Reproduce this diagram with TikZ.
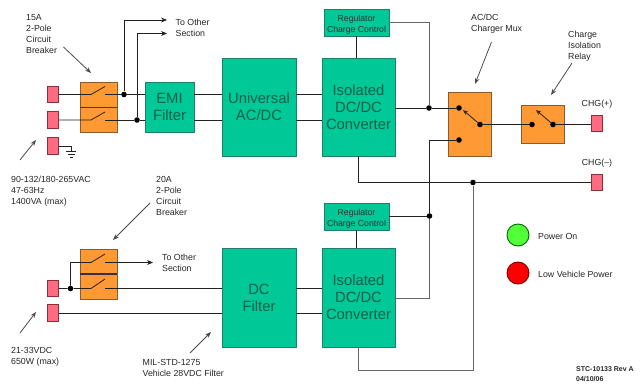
\documentclass[tikz,border=0pt]{standalone}
\usepackage{fontspec}
\setmainfont{Liberation Sans}
\usetikzlibrary{arrows.meta}
\definecolor{teal1}{HTML}{00C896}
\definecolor{tealb}{HTML}{1F7F68}
\definecolor{tealt}{HTML}{0F5F4C}
\definecolor{orange1}{HTML}{FF9933}
\definecolor{orangeb}{HTML}{8A5A30}
\definecolor{pink1}{HTML}{FF6B80}
\definecolor{pinkb}{HTML}{8A3038}
\definecolor{wire}{HTML}{222222}
\definecolor{wireg}{HTML}{666666}
\tikzset{
  block/.style={draw=tealb,fill=teal1,line width=0.9pt,inner sep=0pt,align=center,text=tealt,font=\fontsize{14.8}{17}\selectfont},
  regbox/.style={draw=tealb,fill=teal1,line width=0.9pt,inner sep=0pt,align=center,text=black!80,minimum width=65pt,minimum height=27pt,font=\fontsize{8.7}{11}\selectfont},
  brk/.style={draw=orangeb,fill=orange1,line width=0.8pt,inner sep=0pt},
  pinbox/.style={draw=pinkb,fill=pink1,line width=0.8pt,inner sep=0pt,minimum width=11pt,minimum height=16.5pt},
  lbl/.style={inner sep=0pt,align=left,anchor=north west,text=black!85,font=\fontsize{8.8}{11}\selectfont},
  wr/.style={draw=wire,line width=0.8pt},
  wg/.style={draw=wireg,line width=0.9pt},
  jdot/.style={circle,fill=black,inner sep=0pt,minimum size=5.6pt},
  swarrow/.style={wr,-{Stealth[length=5pt,width=4pt]}},
  callout/.style={draw=black!70,line width=0.8pt,-{Stealth[length=6pt,width=4.5pt]}},
  outarrow/.style={wr,-{Stealth[length=6pt,width=5pt]}}
}
\begin{document}
\begin{tikzpicture}[x=1pt,y=-1pt]
\useasboundingbox (0,0) rectangle (640,385);
\fill[white] (0,0) rectangle (640,385);
% pins
\node[pinbox] (p1) at (53,94.5) {};
\node[pinbox] (p2) at (53,120) {};
\node[pinbox] (p3) at (53,146) {};
\node[pinbox] (p4) at (53,288.5) {};
\node[pinbox] (p5) at (53,313) {};
\node[pinbox] (pp) at (597,123.5) {};
\node[pinbox] (pm) at (597,182.5) {};
% coordinates
\coordinate (u1) at (167,20);
\coordinate (u2) at (167,33.5);
\coordinate (lo) at (153,262.5);
\coordinate (gnd) at (71,151);
\coordinate (loopa) at (473,370.5);
\coordinate (n1s) at (63.5,47); \coordinate (n1e) at (91,73);
\coordinate (n2s) at (20,160);  \coordinate (n2e) at (36,140);
\coordinate (n3s) at (150,203); \coordinate (n3e) at (113,240);
\coordinate (n4s) at (20,333);  \coordinate (n4e) at (36,312);
\coordinate (n5s) at (190,353); \coordinate (n5e) at (211,332);
\coordinate (n6s) at (491.5,42); \coordinate (n6e) at (475,84);
\coordinate (n7s) at (572,63);  \coordinate (n7e) at (551,95);
% wires under blocks
\draw[wr] (p3.east) -| (gnd);
\draw[wr] (66,151) -- (76,151) (67.5,154) -- (74.5,154) (69.5,157) -- (72.5,157);
% blocks
\node[brk,minimum width=37pt,minimum height=50pt] (b1) at (98.5,107) {};
\node[brk,minimum width=37pt,minimum height=50pt] (b2) at (98.5,274) {};
\draw[line width=0.9pt,draw=orangeb!60!black] (b1.west) -- (b1.east);
\draw[line width=1.1pt,draw=black!80] (b2.west) -- (b2.east);
\node[block,minimum width=49pt,minimum height=50pt] (emi) at (169.5,107) {EMI\\Filter};
\node[block,minimum width=74pt,minimum height=98pt] (uni) at (259,107) {Universal\\AC/DC};
\node[block,minimum width=73pt,minimum height=98pt] (iso1) at (358.5,107) {Isolated\\DC/DC\\Converter};
\node[regbox] (reg1) at (356.5,22.5) {\rule{0pt}{11pt}Regulator\\Charge Control};
\node[block,minimum width=74pt,minimum height=99pt] (dcf) at (259,297.5) {DC\\Filter};
\node[block,minimum width=73pt,minimum height=99pt] (iso2) at (358.5,297.5) {Isolated\\DC/DC\\Converter};
\node[regbox] (reg2) at (356.5,216.5) {\rule{0pt}{11pt}Regulator\\Charge Control};
\node[brk,minimum width=43pt,minimum height=64pt] (mux) at (469.5,124) {};
\node[brk,minimum width=43pt,minimum height=37.5pt] (rel) at (543,124.3) {};
% junctions
\node[jdot] (j1) at (124,94.5) {};
\node[jdot] (j2) at (137,120) {};
\node[jdot] (j3) at (70.5,288.5) {};
\node[jdot] (j4) at (429,108) {};
\node[jdot] (j5) at (429.5,216) {};
\node[jdot] (j6) at (473,182.5) {};
\node[jdot] (m1) at (459,108) {};
\node[jdot] (m2) at (459,140) {};
\node[jdot] (m3) at (480,124.5) {};
\node[jdot] (r1) at (532,124.5) {};
\node[jdot] (r2) at (553,124.5) {};
% breaker top
\coordinate (s1a) at (91,94.5); \coordinate (s1b) at (105,86.5); \coordinate (s1c) at (105,94.5);
\coordinate (s2a) at (91,120);  \coordinate (s2b) at (105,112);  \coordinate (s2c) at (105,120);
\draw[wr] (p1.east) -- (s1a) -- (s1b);
\draw[wr] (p2.east) -- (s2a) -- (s2b);
\draw[wr] (s1c) -- (j1) -- (emi.west |- j1);
\draw[wr] (s2c) -- (j2) -- (emi.west |- j2);
\draw[outarrow] (j1) |- (u1);
\draw[outarrow] (j2) |- (u2);
\draw[wr] (emi.east |- j1) -- (uni.west |- j1);
\draw[wr] (emi.east |- j2) -- (uni.west |- j2);
\draw[wr] (uni.east |- j1) -- (iso1.west |- j1);
\draw[wr] (uni.east |- j2) -- (iso1.west |- j2);
% breaker bottom
\coordinate (s3a) at (91,262.5); \coordinate (s3b) at (105,254); \coordinate (s3c) at (105,262.5);
\coordinate (s4a) at (91,288.5); \coordinate (s4b) at (105,279); \coordinate (s4c) at (105,288.5);
\draw[wr] (p4.east) -- (j3) -- (s4a) -- (s4b);
\draw[wr] (j3) |- (s3a) -- (s3b);
\draw[outarrow] (s3c) -- (lo);
\draw[wr] (s4c) -- (dcf.west |- s4c);
\draw[wr] (p5.east) -- (dcf.west |- p5);
\draw[wr] (dcf.east |- s4c) -- (iso2.west |- s4c);
\draw[wr] (dcf.east |- p5) -- (iso2.west |- p5);
% regulators
\draw[wr] (reg1.south) -- (reg1.south |- iso1.north);
\draw[wr] (reg2.south) -- (reg2.south |- iso2.north);
\draw[wg] (reg1.east) -| (j4);
\draw[wr] (reg2.east |- j5) -- (j5);
% outputs
\draw[wr] (iso1.east |- j4) -- (j4) -- (m1);
\draw[wg] (iso2.east |- 0,298.7) -- (429.5,298.7) -- (j5);
\draw[wr] (j5) -- (429.5,140) -- (m2);
\draw[swarrow] (m3) -- (463,110);
\draw[swarrow] (r2) -- (536,110);
\draw[wr] (m3) -- (r1);
\draw[wr] (r2) -- (pp.west |- r2);
% return
\draw[wr] (iso1.south) |- (j6);
\draw[wr] (j6) -- (pm.west |- j6);
\draw[wg] (j6) -- (loopa) -- (iso2.south |- loopa) -- (iso2.south);
% callouts
\draw[callout] (n1s) -- (n1e);
\draw[callout] (n2s) -- (n2e);
\draw[callout] (n3s) -- (n3e);
\draw[callout] (n4s) -- (n4e);
\draw[callout] (n5s) -- (n5e);
\draw[callout] (n6s) -- (n6e);
\draw[callout] (n7s) -- (n7e);
% labels
\node[lbl] (t1) at (26,14.5) {15A\\2-Pole\\Circuit\\Breaker};
\node[lbl] (t2) at (175.5,18.5) {To Other\\Section};
\node[lbl] (t3) at (11,176) {90-132/180-265VAC\\47-63Hz\\1400VA (max)};
\node[lbl] (t4) at (156,176) {20A\\2-Pole\\Circuit\\Breaker};
\node[lbl] (t5) at (162,254) {To Other\\Section};
\node[lbl] (t6) at (11,347) {21-33VDC\\650W (max)};
\node[lbl] (t7) at (142.5,359) {MIL-STD-1275\\Vehicle 28VDC Filter};
\node[lbl] (t8) at (471,14) {AC/DC\\Charger Mux};
\node[lbl] (t9) at (568,31) {Charge\\Isolation\\Relay};
\node[lbl,anchor=south] (t10) at (597,109) {CHG(+)};
\node[lbl,anchor=south] (t11) at (597,168) {CHG(--)};
\node[circle,draw=black!60!green,fill=green!75!white!90!yellow,line width=0.9pt,minimum size=22pt,inner sep=0pt] (c1) at (518,235) {};
\node[circle,draw=red!50!black,fill=red,line width=0.9pt,minimum size=22pt,inner sep=0pt] (c2) at (518,273) {};
\node[lbl,anchor=west] (t12) at (538,236.5) {Power On};
\node[lbl,anchor=west] (t13) at (538,274) {Low Vehicle Power};
\node[lbl,font=\fontsize{7}{10}\selectfont\bfseries] (t14) at (576,366) {STC-10133 Rev A\\04/10/06};
\end{tikzpicture}
\end{document}
